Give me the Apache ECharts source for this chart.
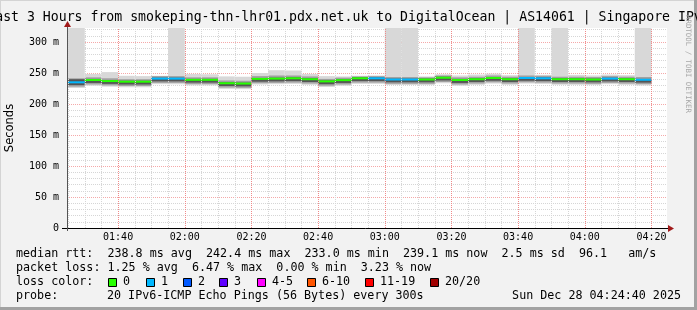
<!DOCTYPE html>
<html><head><meta charset="utf-8">
<script src="https://cdn.jsdelivr.net/npm/echarts@6/dist/echarts.min.js"></script>
<style>html,body{margin:0;padding:0;background:#f2f2f2}#c{width:697px;height:310px}</style>
</head><body><div id="c"></div>
<script>
// ---------------- data ----------------
const windowStart = "01:24:40";
const windowEnd = "04:24:40";
const intervalStarts = ["01:25","01:30","01:35","01:40","01:45","01:50","01:55","02:00","02:05","02:10",
  "02:15","02:20","02:25","02:30","02:35","02:40","02:45","02:50","02:55","03:00",
  "03:05","03:10","03:15","03:20","03:25","03:30","03:35","03:40","03:45","03:50",
  "03:55","04:00","04:05","04:10","04:15"];
const stepMinutes = 5;
const medianMs = [235,238.7,237,236,236,241,241,239,239,233.5,
  233,240.5,241,241.5,240,236.5,238.5,241.5,241.5,239.5,
  239.5,239.5,242.4,238.7,240,242,240,242,241.5,240,
  240,239.5,241,240,239.1];
const lossCount = [1,0,0,0,0,1,1,0,0,0,
  0,0,0,0,0,0,0,0,1,1,
  1,0,0,0,0,0,0,1,1,0,
  0,0,1,0,1];
const smokeMin = [226,229.5,228,227,227,232,232,230,230,224.5,
  224,231.5,232,232.5,231,227.5,229.5,232.5,232.5,230.5,
  230.5,230.5,233.5,229.5,231,233,231,233,232.5,231,
  231,230.5,232,231,230];
const smokeP10 = [228,231.5,230,229,229,234,234,232,232,226.5,
  226,233.5,234,234.5,233,229.5,231.5,234.5,234.5,232.5,
  232.5,232.5,235.5,231.5,233,235,233,235,234.5,233,
  233,232.5,234,233,232];
const smokeP25 = [230.5,234,232.5,231.5,231.5,236.5,236.5,234.5,234.5,229,
  228.5,236,236.5,237,235.5,232,234,237,237,235,
  235,235,238,234,235.5,237.5,235.5,237.5,237,235.5,
  235.5,235,236.5,235.5,234.5];
const smokeP75 = [240,240.5,238.5,237.5,237.5,242.5,242.5,240.5,240.5,235,
  234.5,242,242.5,243,241.5,238,240,243,243,241,
  241,241,244,240.5,241.5,243.5,241.5,243.5,243,241.5,
  241.5,241,242.5,241.5,240.5];
const smokeP90 = [241.5,243,241.5,240,240,245,245,243,243,238,
  237.5,245,246,246,244.5,240.5,242.5,244.5,245,243.5,
  243.5,243,246,243,244,246,244,246,245.5,244,
  244,243.5,245,244,243.5];
const smokeMax = [400,248.5,251.5,245.5,245,245.5,400,248.5,248,244.5,
  244,250,254.5,254,248.5,245,244.5,245.5,246,400,
  400,244.5,248,246,247.5,249,246.5,400,247,400,
  247,246,247.5,246.5,400];
const timeLabels = ["01:40","02:00","02:20","02:40","03:00","03:20","03:40","04:00","04:20"];
const yMaxMs = 322.6;
const lossLabels = ["0","1","2","3","4-5","6-10","11-19","20/20"];
const lossUpper = [0,1,2,3,5,10,19,20];
const lossColors = ["#26ff00","#00b8ff","#0059ff","#5e00ff","#ff00ff","#ff5500","#ff0000","#a10000"];
const rttStats = [238.8, 242.4, 233.0, 239.1];
const lossStats = [1.25, 6.47, 0.00, 3.23];
const rttSd = 2.5;
const amPerS = 96.1;
const titleText = "Last 3 Hours from smokeping-thn-lhr01.pdx.net.uk to DigitalOcean | AS14061 | Singapore IPv6";
const probeText = "20 IPv6-ICMP Echo Pings (56 Bytes) every 300s";
const stampText = "Sun Dec 28 04:24:40 2025";

// ---------------- helpers ----------------
const toMin = s => { const p = s.split(':').map(Number); return p[0]*60 + p[1] + (p[2]||0)/60; };
const lossColor = n => { for (let i=0;i<lossUpper.length;i++) if (n<=lossUpper[i]) return lossColors[i]; return lossColors[lossColors.length-1]; };
const hhmm = v => { const h=Math.floor(v/60+1e-6), m=Math.round(v-h*60); return String(h).padStart(2,'0')+':'+String(m).padStart(2,'0'); };
const MONO = "'DejaVu Sans Mono', monospace";
const MINOR = '#d6d6d6', MAJOR = '#f5a9a9', MAJOR_V = '#f08a8a';

const smokeData = intervalStarts.map((t,i)=>[toMin(t), toMin(t)+stepMinutes, smokeMin[i], smokeP10[i], smokeP25[i], smokeP75[i], smokeP90[i], smokeMax[i]]);
const medianData = intervalStarts.map((t,i)=>[toMin(t), toMin(t)+stepMinutes, medianMs[i], lossCount[i]]);
const majorX = timeLabels.map(toMin);
const minorX = intervalStarts.concat(["04:20"]).map(toMin).filter(v=>majorX.indexOf(v)<0);

const gridLineData = minorX.map(v=>({xAxis:v, lineStyle:{color:MINOR, width:1, type:[1,1]}}))
  .concat(majorX.map(v=>({xAxis:v, lineStyle:{color:MAJOR_V, width:1, type:[1,1]}})));

function renderSmoke(params, api){
  const x0=api.value(0), x1=api.value(1);
  const cs=params.coordSys;
  const rect=(lo,hi,fill)=>{
    const p0=api.coord([x0,hi]), p1=api.coord([x1,lo]);
    const top=Math.max(p0[1], cs.y);
    return {type:'rect', shape:{x:p0[0], y:top, width:p1[0]-p0[0], height:p1[1]-top}, style:{fill:fill}};
  };
  return {type:'group', children:[
    rect(api.value(2), api.value(7), '#d8d8d8'),
    rect(api.value(3), api.value(6), '#a0a0a0'),
    rect(api.value(4), api.value(5), '#555555')
  ]};
}
function renderMedian(params, api){
  const p0=api.coord([api.value(0), api.value(2)]), p1=api.coord([api.value(1), api.value(2)]);
  return {type:'rect', shape:{x:p0[0], y:p0[1]-1, width:p1[0]-p0[0], height:2}, style:{fill:lossColor(api.value(3))}};
}

// legend text
const f1 = v => v.toFixed(1), f2 = v => v.toFixed(2);
const line1 = "median rtt:  " + f1(rttStats[0]) + " ms avg  " + f1(rttStats[1]) + " ms max  " + f1(rttStats[2]) + " ms min  " + f1(rttStats[3]) + " ms now  " + f1(rttSd) + " ms sd  " + f1(amPerS) + "   am/s";
const line2 = "packet loss: " + f2(lossStats[0]) + " % avg  " + f2(lossStats[1]) + " % max  " + f2(lossStats[2]) + " % min  " + f2(lossStats[3]) + " % now";
const boxX = [108,146,183,219,257,307,365,430];
const LFS = 11.7;
const graphics = [
  {type:'rect', shape:{x:0,y:0,width:697,height:1}, style:{fill:'#d4d4d4'}, silent:true},
  {type:'rect', shape:{x:0,y:0,width:1,height:310}, style:{fill:'#d4d4d4'}, silent:true},
  {type:'rect', shape:{x:694,y:0,width:3,height:310}, style:{fill:'#a2a2a2'}, silent:true},
  {type:'rect', shape:{x:0,y:307,width:697,height:3}, style:{fill:'#a2a2a2'}, silent:true},
  {type:'text', x:348.5, y:18, style:{text:titleText, font:'13.2px '+MONO, fill:'#000', textAlign:'center', textVerticalAlign:'middle'}},
  {type:'text', x:688, y:64, rotation:-Math.PI/2, style:{text:'RRDTOOL / TOBI OETIKER', font:'7.4px '+MONO, fill:'#a8a8a8', textAlign:'center', textVerticalAlign:'middle'}},
  {type:'line', shape:{x1:62,y1:228.5,x2:669,y2:228.5}, style:{stroke:'#000', lineWidth:1}, z:10},
  {type:'line', shape:{x1:67.5,y1:231,x2:67.5,y2:24}, style:{stroke:'#555', lineWidth:1}, z:10},
  {type:'polygon', shape:{points:[[64,27],[71,27],[67.5,21]]}, style:{fill:'#a11a1a'}, z:11},
  {type:'polygon', shape:{points:[[668,225],[668,232],[674,228.5]]}, style:{fill:'#a11a1a'}, z:11},
  {type:'text', x:16, y:254, style:{text:line1, font:LFS+'px '+MONO, fill:'#000', textVerticalAlign:'middle'}},
  {type:'text', x:16, y:268, style:{text:line2, font:LFS+'px '+MONO, fill:'#000', textVerticalAlign:'middle'}},
  {type:'text', x:16, y:282, style:{text:'loss color:', font:LFS+'px '+MONO, fill:'#000', textVerticalAlign:'middle'}},
  {type:'text', x:16, y:296, style:{text:'probe:', font:LFS+'px '+MONO, fill:'#000', textVerticalAlign:'middle'}},
  {type:'text', x:107, y:296, style:{text:probeText, font:LFS+'px '+MONO, fill:'#000', textVerticalAlign:'middle'}},
  {type:'text', x:681, y:296, style:{text:stampText, font:LFS+'px '+MONO, fill:'#000', textAlign:'right', textVerticalAlign:'middle'}}
];
lossLabels.forEach((lab,i)=>{
  graphics.push({type:'rect', shape:{x:boxX[i]+0.5, y:278.5, width:8, height:8}, style:{fill:lossColors[i], stroke:'#000', lineWidth:1}});
  graphics.push({type:'text', x:boxX[i]+15, y:282, style:{text:lab, font:LFS+'px '+MONO, fill:'#000', textVerticalAlign:'middle'}});
});

const chart = echarts.init(document.getElementById('c'), null, {renderer:'canvas'});
chart.setOption({
  animation:false,
  backgroundColor:'#f2f2f2',
  grid:{left:67, top:28, width:600, height:200, show:true, backgroundColor:'#ffffff', borderWidth:0, containLabel:false, outerBoundsMode:'none'},
  xAxis:{type:'value', min:toMin(windowStart), max:toMin(windowEnd),
    axisLine:{show:false}, axisTick:{show:false}, splitLine:{show:false},
    axisLabel:{customValues:majorX, formatter:v=>hhmm(v), fontFamily:MONO, fontSize:10, color:'#000', margin:4}},
  yAxis:[
    {type:'value', min:0, max:yMaxMs, interval:10, position:'left',
      axisLine:{show:false}, axisTick:{show:false}, axisLabel:{show:false},
      splitLine:{show:true, showMaxLine:false, lineStyle:{color:MINOR, width:1, type:[1,1]}}},
    {type:'value', min:0, max:yMaxMs, interval:50, position:'left',
      name:'Seconds', nameLocation:'middle', nameRotate:90, nameGap:51,
      nameTextStyle:{fontFamily:'DejaVu Sans', fontSize:11.5, color:'#000'},
      axisLine:{show:false}, axisTick:{show:false},
      axisLabel:{showMaxLabel:false, fontFamily:MONO, fontSize:10, color:'#000', margin:8, formatter:v=> v===0 ? '0' : v+' m'},
      splitLine:{show:true, showMaxLine:false, showMinLine:false, lineStyle:{color:MAJOR, width:1, type:[1,1]}}}
  ],
  series:[
    {type:'line', data:[], yAxisIndex:1, z:1, silent:true,
      markLine:{silent:true, symbol:['none','none'], label:{show:false}, animation:false, data:gridLineData}},
    {type:'custom', name:'smoke', yAxisIndex:1, z:2, renderItem:renderSmoke, data:smokeData, encode:{x:[0,1], y:[2,7]}, silent:true},
    {type:'custom', name:'median', yAxisIndex:1, z:3, renderItem:renderMedian, data:medianData, encode:{x:[0,1], y:2}, silent:true}
  ],
  graphic:graphics
});
</script></body></html>
